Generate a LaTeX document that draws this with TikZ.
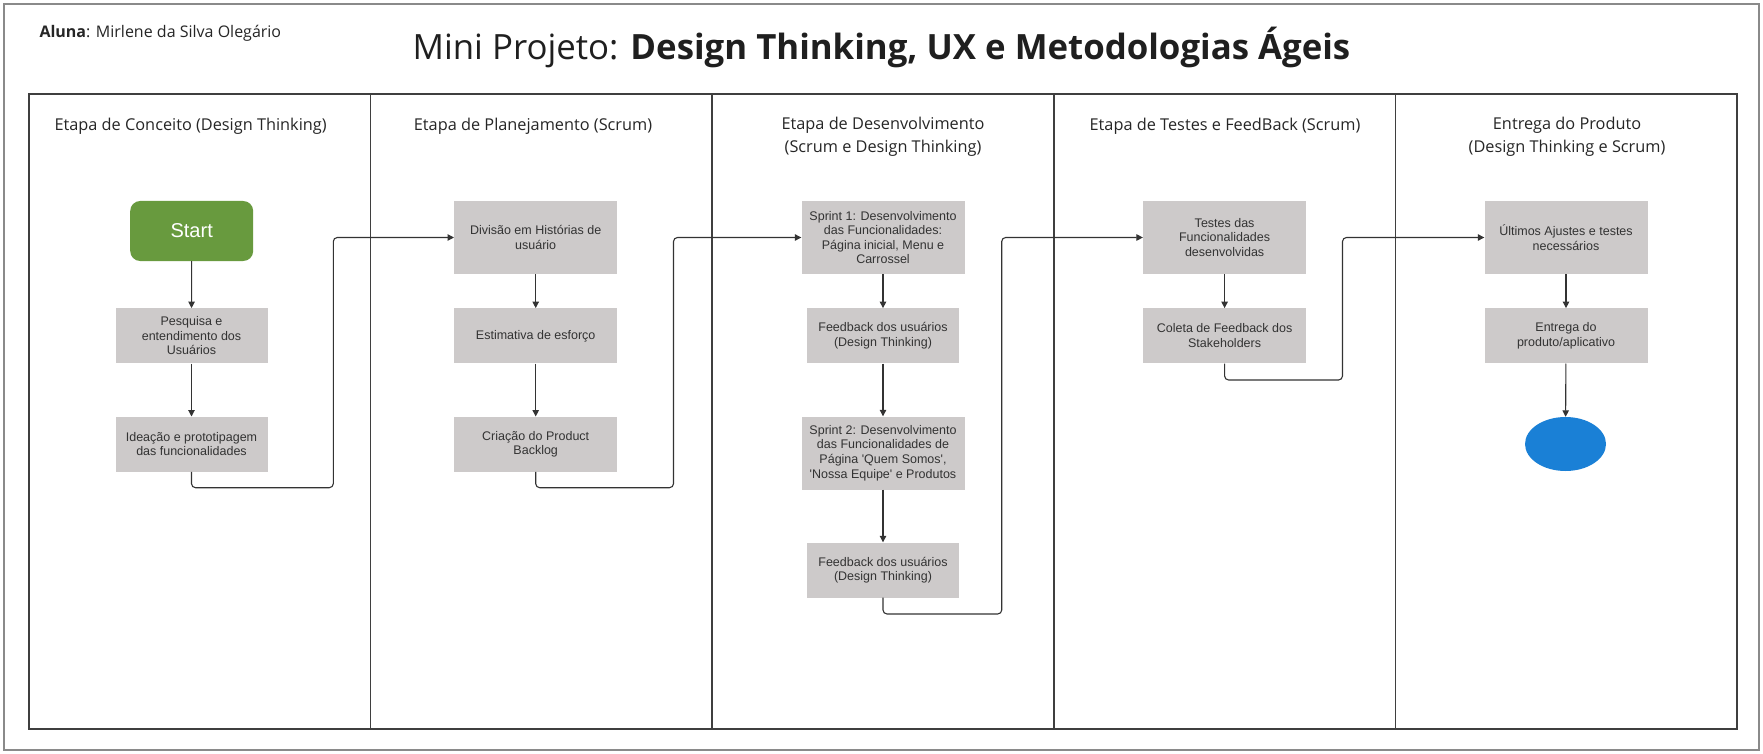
\documentclass[tikz,border=0pt]{standalone}
\usepackage{fontspec}
\setmainfont{Open Sans}
\newfontfamily\boxfont{Liberation Sans}
\usetikzlibrary{arrows.meta,shapes.geometric}
\definecolor{boxgray}{HTML}{CDCACA}
\definecolor{startgreen}{HTML}{689A3E}
\definecolor{endblue}{HTML}{1A80D6}
\definecolor{framegray}{HTML}{8A8A8A}
\definecolor{lanegray}{HTML}{3F3F3F}
\definecolor{txt}{HTML}{333333}
\tikzset{
  procbox/.style={fill=boxgray, draw=none, align=center, text=txt,
    font=\boxfont\fontsize{12.5}{14.6}\selectfont, inner sep=0pt},
  widebox/.style={procbox, minimum width=163pt, minimum height=73pt},
  shortbox/.style={procbox, minimum width=152pt, minimum height=55pt},
  conn/.style={draw=txt, line width=1.1pt, rounded corners=4pt,
    -{Triangle[width=6.5pt,length=6.5pt]}},
  lanehead/.style={font=\fontsize{16.3}{23}\selectfont, text=black!85, align=center},
}
\begin{document}
\begin{tikzpicture}[x=1pt,y=-1pt]
\useasboundingbox (0,0) rectangle (1763,754);
\fill[white] (0,0) rectangle (1763,754);
% outer frame
\draw[framegray, line width=2.5pt] (4,4) rectangle (1759,750);
% lanes
\draw[lanegray, line width=1.7pt] (29,94) rectangle (1737,729);
\foreach \xx in {370.6,712.2,1053.8,1395.4}
  \draw[lanegray, line width=1.7pt] (\xx,94) -- (\xx,729);
% title and author
\node[anchor=west, font=\fontsize{16}{19}\selectfont, text=black!85] (aluna) at (36,33) {\textbf{Aluna}: Mirlene da Silva Olegário};
\node[font=\fontsize{34.8}{40}\selectfont, text=black!88] (title) at (881.5,47) {Mini Projeto: \textbf{Design Thinking, UX e Metodologias Ágeis}};
% lane headers
\node[lanehead] (h1) at (190.6,126) {Etapa de Conceito (Design Thinking)};
\node[lanehead] (h2) at (533,126) {Etapa de Planejamento (Scrum)};
\node[lanehead, anchor=north] (h3) at (883,113.5) {Etapa de Desenvolvimento\\(Scrum e Design Thinking)};
\node[lanehead] (h4) at (1225,126) {Etapa de Testes e FeedBack (Scrum)};
\node[lanehead, anchor=north] (h5) at (1567,113.5) {Entrega do Produto\\(Design Thinking e Scrum)};
% lane 1
\node[fill=startgreen, rounded corners=10pt, minimum width=123pt, minimum height=60pt,
  text=white, font=\boxfont\fontsize{20}{24}\selectfont] (start) at (191.7,231) {Start};
\node[shortbox] (pesq) at (191.5,335.8) {Pesquisa e\\entendimento dos\\Usuários};
\node[shortbox] (idea) at (191.5,444.2) {Ideação e prototipagem\\das funcionalidades};
% lane 2
\node[widebox] (div) at (535.7,237.5) {Divisão em Histórias de\\usuário};
\node[widebox, minimum height=55pt] (est) at (535.7,335.8) {Estimativa de esforço};
\node[widebox, minimum height=55pt] (cria) at (535.7,444.2) {Criação do Product\\Backlog};
% lane 3
\node[widebox] (sp1) at (883,237.5) {Sprint 1: Desenvolvimento\\das Funcionalidades:\\Página inicial, Menu e\\Carrossel};
\node[shortbox] (fb1) at (883,335.8) {Feedback dos usuários\\(Design Thinking)};
\node[widebox] (sp2) at (883,453) {Sprint 2: Desenvolvimento\\das Funcionalidades de\\Página \textquotesingle Quem Somos\textquotesingle,\\\textquotesingle Nossa Equipe\textquotesingle{} e Produtos};
\node[shortbox] (fb2) at (883,570) {Feedback dos usuários\\(Design Thinking)};
% lane 4
\node[widebox] (test) at (1224.6,237.5) {Testes das\\Funcionalidades\\desenvolvidas};
\node[widebox, minimum height=55pt] (col) at (1224.6,335.8) {Coleta de Feedback dos\\Stakeholders};
% lane 5
\node[widebox] (ult) at (1566,237.5) {Últimos Ajustes e testes\\necessários};
\node[widebox, minimum height=55pt] (ent) at (1566,335.8) {Entrega do\\produto/aplicativo};
\node[ellipse, fill=endblue, minimum width=81pt, minimum height=54pt, inner sep=0pt] (fim) at (1565.5,444) {};
% connectors
\coordinate (c1a) at (333.3,487.7);
\coordinate (c2a) at (673.5,487.7);
\coordinate (c3a) at (1001.7,614);
\coordinate (c4a) at (1342.5,380);
\draw[conn] (start) -- (pesq);
\draw[conn] (pesq) -- (idea);
\draw[conn] (idea.south) |- (c1a) |- (div.west);
\draw[conn] (div) -- (est);
\draw[conn] (est) -- (cria);
\draw[conn] (cria.south) |- (c2a) |- (sp1.west);
\draw[conn] (sp1) -- (fb1);
\draw[conn] (fb1) -- (sp2);
\draw[conn] (sp2) -- (fb2);
\draw[conn] (fb2.south) |- (c3a) |- (test.west);
\draw[conn] (test) -- (col);
\draw[conn] (col.south) |- (c4a) |- (ult.west);
\draw[conn] (ult) -- (ent);
\draw[conn] (ent) -- (fim);
\end{tikzpicture}
\end{document}
